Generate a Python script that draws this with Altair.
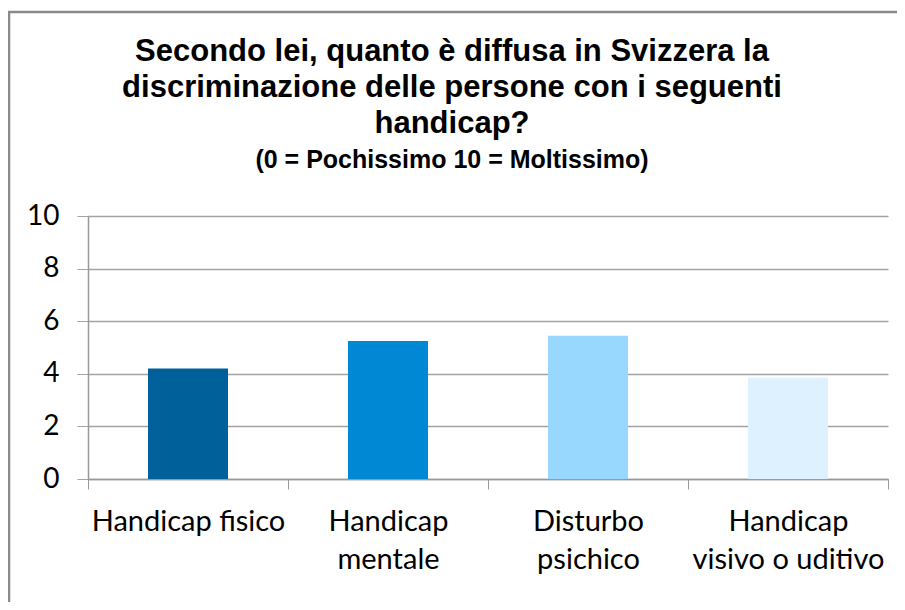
import altair as alt
import pandas as pd

categories = ["Handicap fisico", "Handicap mentale", "Disturbo psichico", "Handicap visivo o uditivo"]
values = [4.2, 5.25, 5.45, 3.85]
colors = ["#00619A", "#0088D4", "#98D8FF", "#DDF1FF"]
y_ticks = [0, 2, 4, 6, 8, 10]

df = pd.DataFrame({"cat": categories, "val": values})

label_expr = (
    "datum.value == 'Handicap fisico' ? ['Handicap fisico'] : "
    "datum.value == 'Handicap mentale' ? ['Handicap', 'mentale'] : "
    "datum.value == 'Disturbo psichico' ? ['Disturbo', 'psichico'] : "
    "datum.value == 'Handicap visivo o uditivo' ? ['Handicap', 'visivo o uditivo'] : ''"
)

bars = alt.Chart(df).mark_bar(width=alt.RelativeBandSize(0.4)).encode(
    x=alt.X("cat:N", sort=categories,
            scale=alt.Scale(paddingInner=0, paddingOuter=0),
            axis=alt.Axis(title=None, labelAngle=0, labelExpr=label_expr,
                          labelFont="Lato", labelFontSize=29, labelColor="#000",
                          labelPadding=18, labelLineHeight=38,
                          tickBand="extent", tickSize=10, tickColor="#999",
                          domainColor="#999", domainWidth=1.5, labelLimit=300)),
    y=alt.Y("val:Q", scale=alt.Scale(domain=[0, 10], nice=False),
            axis=alt.Axis(title=None, values=y_ticks, grid=True, gridColor="#A3A3A3",
                          gridWidth=1.4, tickSize=11, tickColor="#A3A3A3",
                          domainColor="#999", domainWidth=1.5,
                          labelFont="Lato", labelFontSize=28, labelColor="#000",
                          labelPadding=18)),
    color=alt.Color("cat:N", sort=categories,
                    scale=alt.Scale(domain=categories, range=colors), legend=None),
)

border = alt.Chart(pd.DataFrame({"a": [0]})).mark_rect(
    fill=None, stroke="#8A8A8A", strokeWidth=2.5
).encode(
    x=alt.value(-79), x2=alt.value(900), y=alt.value(-204), y2=alt.value(600)
)

chart = alt.layer(bars, border).properties(
    width=800, height=263,
    padding={"left": 80, "top": 208, "right": 9, "bottom": 123},
    autosize=alt.AutoSizeParams(type="none"),
    title=alt.TitleParams(
        text=["Secondo lei, quanto è diffusa in Svizzera la",
              "discriminazione delle persone con i seguenti",
              "handicap?"],
        subtitle="(0 = Pochissimo 10 = Moltissimo)",
        font="Liberation Sans", fontSize=31, fontWeight="bold", color="#000",
        lineHeight=36,
        subtitleFont="Liberation Sans", subtitleFontSize=25, subtitleFontWeight="bold",
        subtitleColor="#000", subtitlePadding=8,
        anchor="middle", offset=-163, dx=-36,
    ),
).configure_view(stroke=None)

chart.save("out.html", embed_options={"renderer": "svg", "actions": False})
